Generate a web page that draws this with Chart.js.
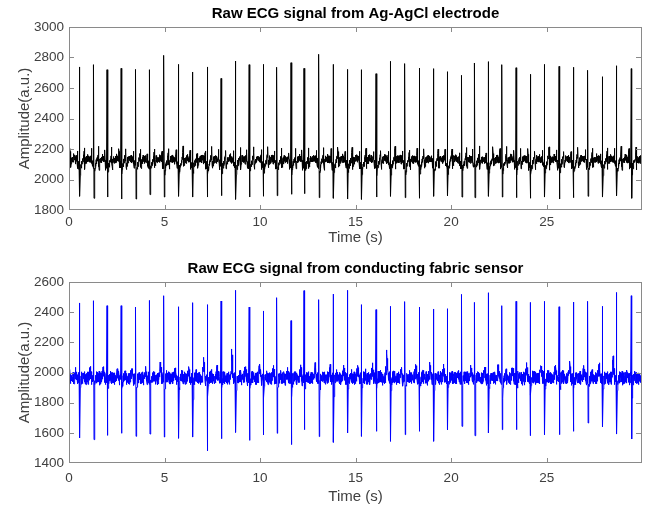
<!DOCTYPE html>
<html>
<head>
<meta charset="utf-8">
<script src="https://cdn.jsdelivr.net/npm/chart.js@4.4.1/dist/chart.umd.min.js"></script>
<style>
  html, body { margin: 0; padding: 0; background: #fff; }
  #wrap { position: relative; width: 649px; height: 506px; }
  canvas { position: absolute; left: 0; }
</style>
</head>
<body>
<div id="wrap">
  <canvas id="topChart" width="649" height="253" style="top:0"></canvas>
  <canvas id="bottomChart" width="649" height="253" style="top:253px"></canvas>
</div>
<script>
// Tempos dos picos R (s)
const beatTimes = [0.55, 1.29, 1.99, 2.73, 3.49, 4.22, 4.97, 5.73, 6.46, 7.23,
  7.96, 8.72, 9.43, 10.16, 10.88, 11.62, 12.30, 13.08, 13.83, 14.57,
  15.30, 16.07, 16.82, 17.58, 18.33, 19.08, 19.80, 20.55, 21.23, 21.95,
  22.66, 23.40, 24.13, 24.88, 25.65, 26.39, 27.15, 27.92, 28.66, 29.43];

// Eletrodo Ag-AgCl: picos R e vales S
const topR = [2738, 2753, 2720, 2729, 2722, 2720, 2814, 2755, 2705, 2738,
  2663, 2777, 2753, 2755, 2736, 2766, 2729, 2821, 2755, 2722,
  2720, 2694, 2775, 2760, 2731, 2727, 2707, 2683, 2764, 2773,
  2753, 2733, 2690, 2755, 2742, 2736, 2716, 2674, 2746, 2727];
const topS = [1890, 1877, 1885, 1872, 1872, 1901, 1885, 1890, 1885, 1885,
  1894, 1870, 1885, 1890, 1894, 1903, 1907, 1881, 1877, 1872,
  1870, 1885, 1890, 1881, 1877, 1890, 1894, 1885, 1881, 1890,
  1885, 1881, 1877, 1885, 1872, 1881, 1890, 1885, 1894, 1877];

// Sensor de tecido: picos R, vales S, queda após S e onda antes do próximo R
const bottomR = [2461, 2476, 2443, 2443, 2434, 2478, 2509, 2436, 2463, 2450,
  2474, 2545, 2434, 2408, 2496, 2344, 2543, 2483, 2520, 2545,
  2450, 2417, 2439, 2470, 2434, 2421, 2423, 2518, 2465, 2529,
  2443, 2472, 2465, 2472, 2436, 2467, 2472, 2439, 2531, 2509];
const bottomS = [1566, 1555, 1583, 1597, 1577, 1592, 1572, 1564, 1572, 1480,
  1561, 1603, 1550, 1586, 1597, 1522, 1621, 1575, 1537, 1599,
  1577, 1610, 1544, 1588, 1610, 1544, 1621, 1643, 1581, 1599,
  1621, 1621, 1581, 1588, 1588, 1610, 1665, 1639, 1592, 1559];
const bottomDip = [1900, 1890, 1910, 1895, 1900, 1860, 1890, 1900, 1820, 1840,
  1900, 1880, 1895, 1830, 1900, 1840, 1905, 1810, 1840, 1890,
  1900, 1895, 1880, 1900, 1890, 1880, 1900, 1895, 1860, 1900,
  1830, 1895, 1850, 1890, 1900, 1895, 1900, 1890, 1880, 1830];
const bottomBump = [2040, 2050, 2060, 2040, 2050, 2050, 2090, 2040, 2060, 2110,
  2050, 2160, 2060, 2070, 2060, 2050, 2060, 2070, 2060, 2060,
  2060, 2080, 2150, 2060, 2070, 2080, 2060, 2040, 2060, 2060,
  2070, 2060, 2070, 2080, 2060, 2100, 2060, 2080, 2120, 2040];

// Forma de um batimento, amostrada a cada 0.02 s (índices 0 e 1 = R e S)
const topShape = [0, 0, 2050, 2075, 2085, 2095, 2105, 2110, 2120, 2130,
  2140, 2155, 2195, 2095, 2085, 2110, 2125, 2135, 2125, 2135,
  2130, 2135, 2145, 2130, 2135, 2125, 2135, 2145, 2130, 2135,
  2125, 2135, 2130, 2135, 2180, 2115, 2085, 2105, 2095, 2090];
const bottomShape = [0, 0, 0, -35, -10, 5, 0, 10, 5, 15,
  10, 20, 5, 0, 5, 0, -5, 0, 5, 0,
  0, -5, 0, 5, 0, 0, 5, 10, 20, 30,
  35, 30, 20, 10, 0, -10, -5, 0, 5, 0];
const bumpEnv = [0, 0, 0, 0, 0, 0, 0, 0, 0, 0,
  0, 0, 0, 0, 0, 0, 0, 0, 0, 0,
  0, 0, 0, 0, 0, 0, 0, 0, 0.3, 0.7,
  1, 1, 0.7, 0.3, 0, 0, 0, 0, 0, 0];
// Ruído fixo da linha de base
const noise = [12, -8, 20, -15, 5, -22, 18, -4, 9, -18, 25, -10, 3, -25, 14, -6, 22, -12, 7,
  -20, 16, -2, -14, 10, -24, 19, -9, 4, -17, 23, -5, 11, -21, 15, -11, 6, -19];

const xTicks = [0, 5, 10, 15, 20, 25];
const xMax = 29.99;
const step = 0.02;
const tailLen = 14;

function sampleIndex(k, n) {
  return k < n - tailLen ? k : topShape.length - (n - k);
}

function nz(a) { return noise[((a % noise.length) + noise.length) % noise.length]; }

// monta a série: R, S (e queda) do batimento, depois a forma com ruído
function buildSeries(rVals, sVals, valueAt) {
  const pts = [];
  const starts = [beatTimes[0] - 0.74].concat(beatTimes);
  for (let i = 0; i < starts.length; i++) {
    const t0 = starts[i];
    const t1 = i + 1 < starts.length ? starts[i + 1] : xMax + 0.2;
    const n = Math.round((t1 - t0) / step);
    for (let k = 0; k < n; k++) {
      const t = t0 + k * step;
      if (t < 0 || t > xMax) continue;
      if (i > 0 && k === 0) { pts.push({x: t, y: rVals[i - 1]}); continue; }
      if (i > 0 && k === 1) { pts.push({x: t, y: sVals[i - 1]}); continue; }
      pts.push({x: t, y: valueAt(i, k, n, 0)});
      if (i > 0 && k === 2 && valueAt.fixedDip) continue;
      pts.push({x: t + step / 2, y: valueAt(i, k, n, 1)});
    }
  }
  return pts;
}

function topValue(i, k, n, half) {
  const idx = sampleIndex(k, n);
  return topShape[idx] + nz(k * 5 + i * 3 + half * 11) * 1.0;
}

function bottomValue(i, k, n, half) {
  if (i > 0 && k === 2 && half === 0) return bottomDip[i - 1];
  const idx = sampleIndex(k, n);
  const bump = bottomBump[Math.min(i, bottomBump.length - 1)];
  return 1962 + bottomShape[idx] + (bump - 2040) * bumpEnv[idx] + nz(k * 7 + i * 5 + half * 13) * 1.7;
}
bottomValue.fixedDip = true;

// Caixa e marcas internas, estilo MATLAB
const boxTicks = {
  id: 'boxTicks',
  afterDatasetsDraw(chart) {
    const {ctx, chartArea: a, scales: {x, y}} = chart;
    ctx.save();
    ctx.strokeStyle = '#8a8a8a';
    ctx.lineWidth = 1;
    ctx.strokeRect(Math.round(a.left) + 0.5, Math.round(a.top) + 0.5, Math.round(a.width) - 1, Math.round(a.height) - 1);
    ctx.beginPath();
    x.ticks.forEach(t => {
      const px = Math.round(x.getPixelForValue(t.value)) + 0.5;
      if (px <= a.left + 1 || px >= a.right - 1) return;
      ctx.moveTo(px, a.bottom); ctx.lineTo(px, a.bottom - 5);
      ctx.moveTo(px, a.top); ctx.lineTo(px, a.top + 5);
    });
    y.ticks.forEach(t => {
      const py = Math.round(y.getPixelForValue(t.value)) + 0.5;
      if (py <= a.top + 1 || py >= a.bottom - 1) return;
      ctx.moveTo(a.left, py); ctx.lineTo(a.left + 5, py);
      ctx.moveTo(a.right - 1, py); ctx.lineTo(a.right - 6, py);
    });
    ctx.stroke();
    ctx.restore();
  }
};

const titleDraw = {
  id: 'titleDraw',
  afterDraw(chart, args, opts) {
    const {ctx, chartArea: a} = chart;
    ctx.save();
    ctx.font = 'bold 15px "Liberation Sans", Arial, sans-serif';
    ctx.fillStyle = '#000';
    ctx.textAlign = 'center';
    ctx.textBaseline = 'middle';
    ctx.fillText(opts.text, (a.left + a.right) / 2, opts.y);
    ctx.restore();
  }
};

function makeChart(id, pts, color, yMin, yMax, title, cfg) {
  const family = '"Liberation Sans", Arial, sans-serif';
  const tickFont = {family: family, size: 13.5};
  return new Chart(document.getElementById(id), {
    type: 'line',
    data: {datasets: [{data: pts, borderColor: color, borderWidth: 1, pointRadius: 0, tension: 0}]},
    options: {
      responsive: false,
      animation: false,
      devicePixelRatio: 1,
      layout: {padding: {top: cfg.top, right: 7, left: 0, bottom: 0}},
      plugins: {
        legend: {display: false},
        tooltip: {enabled: false},
        titleDraw: {text: title, y: cfg.titleY}
      },
      scales: {
        x: {
          type: 'linear', min: 0, max: xMax,
          grid: {display: false, drawTicks: false},
          border: {display: false},
          afterBuildTicks: s => { s.ticks = xTicks.map(v => ({value: v})); },
          afterFit: s => { s.height = cfg.xHeight; },
          ticks: {padding: cfg.xTickPad, color: '#404040', font: tickFont, maxRotation: 0, callback: v => String(v)},
          title: {display: true, text: 'Time (s)', color: '#404040', font: {family: family, size: 15}, padding: {top: 0, bottom: cfg.xTitlePad}}
        },
        y: {
          min: yMin, max: yMax,
          grid: {display: false, drawTicks: false},
          border: {display: false},
          afterFit: s => { s.width = 69; },
          ticks: {stepSize: 200, padding: 5, color: '#404040', font: tickFont, callback: v => String(v)},
          title: {display: true, text: 'Amplitude(a.u.)', color: '#404040', font: {family: family, size: 15}, padding: {top: 16, bottom: 0}}
        }
      }
    },
    plugins: [boxTicks, titleDraw]
  });
}

makeChart('topChart', buildSeries(topR, topS, topValue), '#000000', 1800, 3000,
  'Raw ECG signal from Ag-AgCl electrode',
  {top: 27, titleY: 14, xHeight: 43, xTickPad: 4, xTitlePad: 6});
makeChart('bottomChart', buildSeries(bottomR, bottomS, bottomValue), '#0000ff', 1400, 2600,
  'Raw ECG signal from conducting fabric sensor',
  {top: 29, titleY: 16, xHeight: 43, xTickPad: 7, xTitlePad: 0});
</script>
</body>
</html>
